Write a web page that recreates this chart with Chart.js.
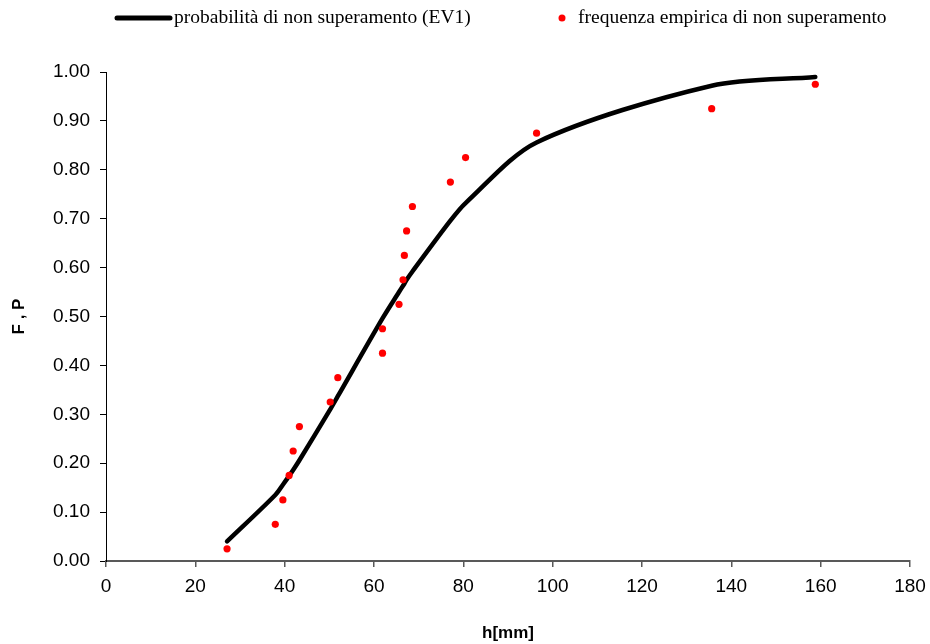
<!DOCTYPE html>
<html>
<head>
<meta charset="utf-8">
<script src="https://cdn.jsdelivr.net/npm/chart.js@4"></script>
<style>
  body { margin: 0; background: #fff; }
</style>
</head>
<body>
<canvas id="curvaChart" width="930" height="644"></canvas>
<script>
// altezze di pioggia ordinate h [mm] e frequenza empirica di non superamento F
var hEmp = [27.1, 37.9, 39.6, 41.0, 41.9, 43.3, 50.2, 51.9, 61.9, 61.9, 65.6, 66.5, 66.8, 67.3, 68.6, 77.1, 80.5, 96.4, 135.6, 158.8];
var fEmp = [0.025, 0.075, 0.125, 0.175, 0.225, 0.275, 0.325, 0.375, 0.425, 0.475, 0.525, 0.575, 0.625, 0.675, 0.725, 0.775, 0.825, 0.875, 0.925, 0.975];

// probabilita' di non superamento EV1
var hEv1 = [27.1, 37.9, 39.6, 41.0, 41.9, 43.3, 50.2, 51.9, 61.9, 65.6, 66.5, 66.8, 67.3, 68.6, 77.1, 80.5, 96.4, 135.6, 158.8];
var pEv1 = [0.040, 0.135, 0.156, 0.174, 0.186, 0.206, 0.310, 0.337, 0.496, 0.550, 0.563, 0.567, 0.575, 0.592, 0.696, 0.732, 0.856, 0.972, 0.990];

var xTicks = [0, 20, 40, 60, 80, 100, 120, 140, 160, 180];
var yTicks = [0, 0.1, 0.2, 0.3, 0.4, 0.5, 0.6, 0.7, 0.8, 0.9, 1.0];

var legendLabels = ['probabilità di non superamento (EV1)', 'frequenza empirica di non superamento'];

function toPoints(xs, ys) {
    return xs.map(function (x, i) { return { x: x, y: ys[i] }; });
}

// legenda disegnata a mano sopra il grafico
var legendPlugin = {
    id: 'legendaManuale',
    afterDraw: function (chart) {
        var ctx = chart.ctx;
        ctx.save();
        ctx.font = '19.5px "Liberation Serif", "Times New Roman", serif';
        ctx.fillStyle = '#000';
        ctx.textBaseline = 'middle';
        // linea nera
        ctx.strokeStyle = '#000';
        ctx.lineWidth = 5;
        ctx.lineCap = 'round';
        ctx.beginPath();
        ctx.moveTo(117, 18);
        ctx.lineTo(170, 18);
        ctx.stroke();
        ctx.fillText(legendLabels[0], 174, 18);
        // punto rosso
        ctx.fillStyle = '#ff0000';
        ctx.beginPath();
        ctx.arc(562, 18, 3.5, 0, Math.PI * 2);
        ctx.fill();
        ctx.fillStyle = '#000';
        ctx.fillText(legendLabels[1], 578, 18);
        ctx.restore();
    }
};

var ctx = document.getElementById('curvaChart').getContext('2d');
var curvaChart = new Chart(ctx, {
    type: 'scatter',
    data: {
        datasets: [{
            label: legendLabels[0],
            data: toPoints(hEv1, pEv1),
            showLine: true,
            borderColor: '#000',
            borderWidth: 4.5,
            borderCapStyle: 'round',
            borderJoinStyle: 'round',
            tension: 0.3,
            pointRadius: 0,
            order: 2
        }, {
            label: legendLabels[1],
            data: toPoints(hEmp, fEmp),
            backgroundColor: '#ff0000',
            borderColor: '#ff0000',
            pointRadius: 3.6,
            pointBorderWidth: 0,
            order: 1
        }]
    },
    options: {
        responsive: false,
        animation: false,
        layout: {
            padding: { top: 72, right: 20, left: 0, bottom: 0 }
        },
        plugins: {
            legend: { display: false },
            tooltip: { enabled: false }
        },
        scales: {
            x: {
                type: 'linear',
                min: 0,
                max: 180,
                afterBuildTicks: function (scale) {
                    scale.ticks = xTicks.map(function (v) { return { value: v }; });
                },
                afterFit: function (scale) {
                    scale.height = 83;
                    scale.paddingRight = 0;
                },
                border: { color: '#595959', width: 2 },
                grid: { drawOnChartArea: false, drawTicks: true, tickLength: 6, color: '#595959', lineWidth: 1.5 },
                ticks: {
                    padding: 8,
                    color: '#000',
                    font: { family: '"Liberation Sans", Arial, sans-serif', size: 19 },
                    maxRotation: 0
                },
                title: {
                    display: true,
                    text: 'h[mm]',
                    color: '#000',
                    font: { family: '"Liberation Sans", Arial, sans-serif', size: 17, weight: 'bold' },
                    padding: { top: 4, bottom: 0 }
                }
            },
            y: {
                type: 'linear',
                min: 0,
                max: 1,
                afterBuildTicks: function (scale) {
                    scale.ticks = yTicks.map(function (v) { return { value: v }; });
                },
                afterFit: function (scale) { scale.width = 106; },
                border: { color: '#000', width: 1 },
                grid: { drawOnChartArea: false, drawTicks: true, tickLength: 6, color: '#000' },
                ticks: {
                    padding: 10,
                    color: '#000',
                    font: { family: '"Liberation Sans", Arial, sans-serif', size: 19 },
                    callback: function (v) { return v.toFixed(2); }
                },
                title: {
                    display: true,
                    text: 'F , P',
                    color: '#000',
                    font: { family: '"Liberation Sans", Arial, sans-serif', size: 17, weight: 'bold' },
                    padding: { top: 9, bottom: 2 }
                }
            }
        }
    },
    plugins: [legendPlugin]
});
</script>
</body>
</html>
